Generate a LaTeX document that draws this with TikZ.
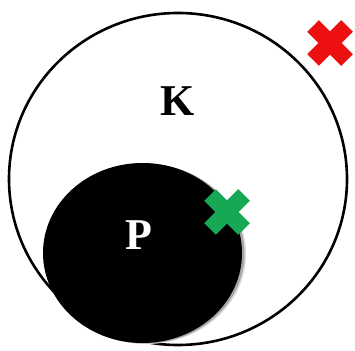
\documentclass[tikz,border=0pt]{standalone}
\usepackage{fontspec}
\setmainfont{Liberation Serif}
\definecolor{crossred}{RGB}{236,16,16}
\definecolor{crossgreen}{RGB}{22,168,84}
\begin{document}
\begin{tikzpicture}[x=1pt,y=1pt,
  setbig/.style={draw=black,line width=2.6pt,fill=white},
  setsmall/.style={fill=black},
  setlabel/.style={font=\fontsize{44}{44}\selectfont\bfseries},
  crossarm/.style={line width=16.5pt,line cap=butt}]
\useasboundingbox (0,0) rectangle (355,350);
\fill[white] (0,0) rectangle (355,350);
% outer set K
\draw[setbig] (178,171) ellipse [x radius=169, y radius=166];
% inner set P (soft shadow + fill)
\fill[black!15] (146,96) ellipse [x radius=100, y radius=90];
\fill[black!35] (144.5,96.5) ellipse [x radius=100, y radius=90];
\fill[setsmall] (142.5,97) ellipse [x radius=99.5, y radius=90];
\node[setlabel,text=black] (K) at (178,249) {K};
\node[setlabel,text=white] (P) at (139,115) {P};
% red cross
\begin{scope}[shift={(330,307)}]
  \draw[crossarm,crossred] (-17,-17) -- (17,17);
  \draw[crossarm,crossred] (-17,17) -- (17,-17);
\end{scope}
% green cross
\begin{scope}[shift={(227,138)}]
  \draw[crossarm,crossgreen] (-17,-17) -- (17,17);
  \draw[crossarm,crossgreen] (-17,17) -- (17,-17);
\end{scope}
\end{tikzpicture}
\end{document}
